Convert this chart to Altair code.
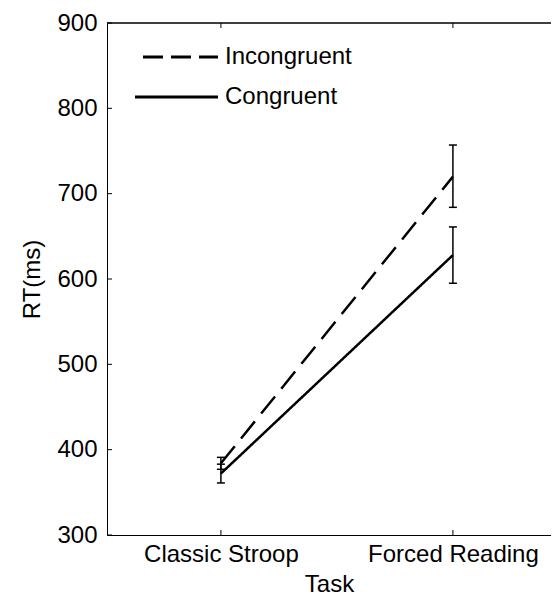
import altair as alt
import pandas as pd

# ---- data ----
tasks = ["Classic Stroop", "Forced Reading"]
conditions = ["Incongruent", "Congruent"]
incongruent_rt = [384, 720]
incongruent_lo = [377, 684]
incongruent_hi = [391, 757]
congruent_rt = [372, 628]
congruent_lo = [361, 595]
congruent_hi = [383, 661]
y_ticks = [300, 400, 500, 600, 700, 800, 900]

rows = []
for cond, rts, los, his in [
    ("Incongruent", incongruent_rt, incongruent_lo, incongruent_hi),
    ("Congruent", congruent_rt, congruent_lo, congruent_hi),
]:
    for i, t in enumerate(tasks):
        rows.append({"task": t, "pos": i + 1, "condition": cond,
                     "rt": rts[i], "lo": los[i], "hi": his[i]})
df = pd.DataFrame(rows)
tick_df = pd.DataFrame({"pos": [i + 1 for i in range(len(tasks))]})
ytick_df = pd.DataFrame({"v": y_ticks})
legend_df = pd.DataFrame({"condition": conditions})

W, H = 444, 512
FONT = "Liberation Sans"
FS = 24

label_expr = " : ".join(
    f"datum.value == {i + 1} ? '{t}'" for i, t in enumerate(tasks)
) + " : ''"

xscale = alt.Scale(domain=[0.509, 0.509 + W / 232.0], nice=False, zero=False)
yscale = alt.Scale(domain=[300, 900], nice=False, zero=False)

x_enc = alt.X("pos:Q", scale=xscale, axis=alt.Axis(
    values=[1, 2], labelExpr=label_expr, title="Task", ticks=False,
    grid=False, labelPadding=7, titlePadding=6, labelFlush=False))
y_enc = alt.Y("rt:Q", scale=yscale, axis=alt.Axis(
    values=y_ticks, title="RT(ms)", ticks=False, grid=False,
    labelPadding=10, titlePadding=12))

dash_scale = alt.Scale(domain=conditions, range=[[22, 10], [1, 0]])

lines = alt.Chart(df).mark_line(color="black", strokeWidth=2.5).encode(
    x=x_enc, y=y_enc,
    strokeDash=alt.StrokeDash("condition:N", scale=dash_scale, legend=None),
    detail="condition:N",
)

err = alt.Chart(df).mark_rule(color="black", strokeWidth=1.5).encode(
    x=alt.X("pos:Q", scale=xscale), y=alt.Y("lo:Q", scale=yscale), y2="hi:Q")
cap_lo = alt.Chart(df).mark_rule(color="black", strokeWidth=1.5, xOffset=-4, x2Offset=4).encode(
    x=alt.X("pos:Q", scale=xscale), x2="pos:Q", y=alt.Y("lo:Q", scale=yscale))
cap_hi = alt.Chart(df).mark_rule(color="black", strokeWidth=1.5, xOffset=-4, x2Offset=4).encode(
    x=alt.X("pos:Q", scale=xscale), x2="pos:Q", y=alt.Y("hi:Q", scale=yscale))

# inward ticks and top frame line
yticks = alt.Chart(ytick_df).mark_rule(color="black").encode(
    y=alt.Y("v:Q", scale=yscale), x=alt.value(0), x2=alt.value(5))
xticks_bottom = alt.Chart(tick_df).mark_rule(color="black").encode(
    x=alt.X("pos:Q", scale=xscale), y=alt.value(H), y2=alt.value(H - 5))
xticks_top = alt.Chart(tick_df).mark_rule(color="black").encode(
    x=alt.X("pos:Q", scale=xscale), y=alt.value(0), y2=alt.value(5))
top_line = alt.Chart(tick_df).mark_rule(color="black").encode(
    x=alt.value(0), x2=alt.value(W), y=alt.value(0))

# hand-built legend
leg_inc_line = alt.Chart(legend_df).transform_filter(
    alt.datum.condition == conditions[0]).mark_rule(
    color="black", strokeWidth=3, strokeDash=[20, 8]).encode(
    x=alt.value(36), x2=alt.value(111), y=alt.value(34))
leg_con_line = alt.Chart(legend_df).transform_filter(
    alt.datum.condition == conditions[1]).mark_rule(
    color="black", strokeWidth=3).encode(
    x=alt.value(28), x2=alt.value(111), y=alt.value(74))
leg_inc_text = alt.Chart(legend_df).transform_filter(
    alt.datum.condition == conditions[0]).mark_text(
    align="left", baseline="middle", font=FONT, fontSize=FS, color="black").encode(
    x=alt.value(118), y=alt.value(34), text="condition:N")
leg_con_text = alt.Chart(legend_df).transform_filter(
    alt.datum.condition == conditions[1]).mark_text(
    align="left", baseline="middle", font=FONT, fontSize=FS, color="black").encode(
    x=alt.value(118), y=alt.value(74), text="condition:N")

chart = alt.layer(
    lines, err, cap_lo, cap_hi, yticks, xticks_bottom, xticks_top, top_line,
    leg_inc_line, leg_con_line, leg_inc_text, leg_con_text,
).properties(
    width=W, height=H,
    background="white",
    autosize=alt.AutoSizeParams(type="none"),
    padding={"left": 99, "top": 15, "right": 0, "bottom": 64},
).configure_view(stroke=None).configure_axis(
    domainColor="black", domainWidth=1, labelColor="black", titleColor="black",
    labelFont=FONT, titleFont=FONT, labelFontSize=FS, titleFontSize=FS,
    titleFontWeight="normal",
)

chart.save("out.html", embed_options={"renderer": "svg", "actions": False})
